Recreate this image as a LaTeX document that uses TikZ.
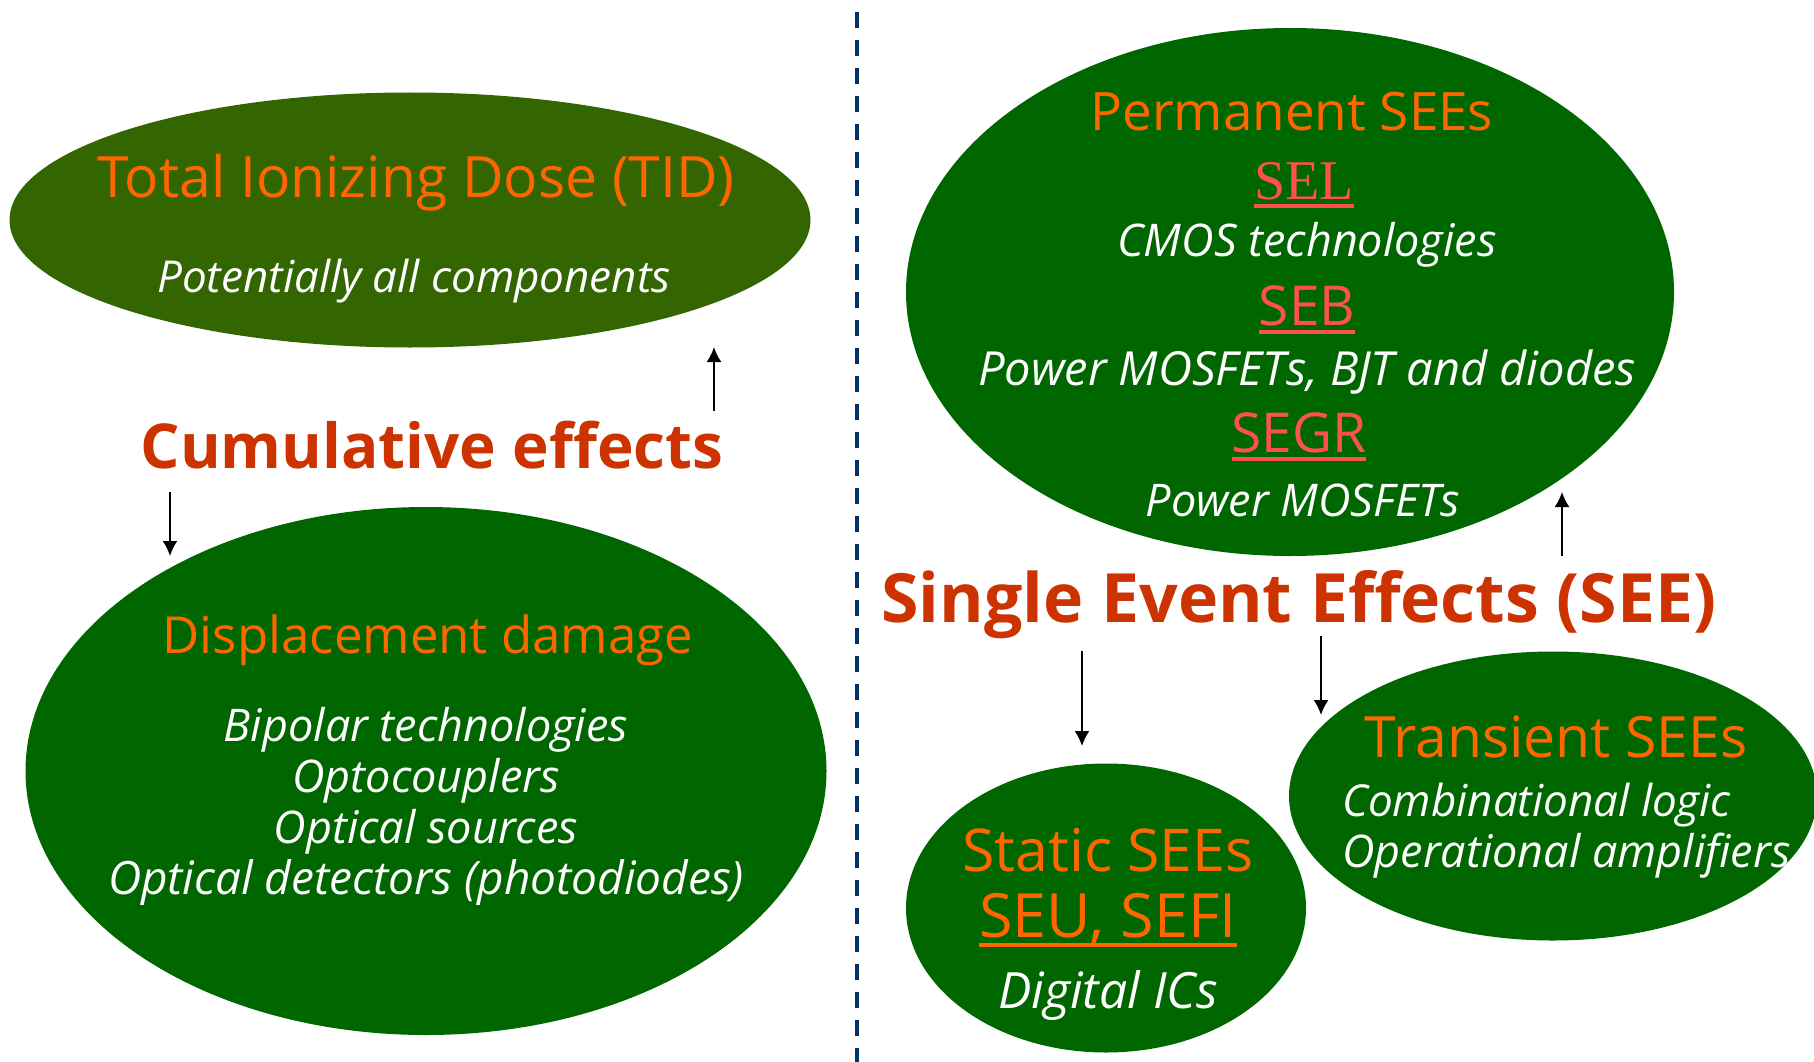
\documentclass[tikz,border=0pt]{standalone}
\usepackage{fontspec}
\setmainfont{Open Sans}
\newfontfamily\cf{Open Sans}
\newfontfamily\tf{Liberation Serif}
\usetikzlibrary{shapes.geometric,arrows.meta}
\definecolor{olivegr}{HTML}{336600}
\definecolor{darkgr}{HTML}{006600}
\definecolor{orng}{HTML}{FF6600}
\definecolor{brick}{HTML}{CC3300}
\definecolor{salmon}{HTML}{FF5050}
\definecolor{navy}{HTML}{003366}
\newcommand\myul[2]{\setbox0\hbox{#2}\rlap{\color{#1}\rule[-0.16em]{\wd0}{4pt}}\box0}
\newcommand\fs[1]{\fontsize{#1}{#1}\selectfont}
\tikzset{
  blob/.style={ellipse, inner sep=0pt, draw=none},
  ttl/.style={text=orng, inner sep=0pt, font=\cf\fs{53}},
  itl/.style={text=white, inner sep=0pt, font=\cf\itshape\fs{45}},
  big/.style={text=brick, inner sep=0pt, font=\cf\bfseries\fs{62}},
  red/.style={text=salmon, inner sep=0pt, font=\cf\fs{55}},
  arr/.style={-{Latex[length=15pt,width=15pt]}, line width=2pt, black},
}
\begin{document}
\begin{tikzpicture}[x=1pt,y=-1pt]
\useasboundingbox (0,0) rectangle (1814,1062);
\begin{scope}
\clip (0,0) rectangle (1814,1062);
% ellipses
\node[blob, fill=olivegr, minimum width=801pt, minimum height=255pt] (tid) at (410,220) {};
\node[blob, fill=darkgr, minimum width=801pt, minimum height=528pt] (dd) at (426,771) {};
\node[blob, fill=darkgr, minimum width=768pt, minimum height=528pt] (perm) at (1290,292) {};
\node[blob, fill=darkgr, minimum width=400pt, minimum height=289pt] (stat) at (1106,908) {};
\node[blob, fill=darkgr, minimum width=528pt, minimum height=289pt] (trans) at (1553,796) {};
\end{scope}
% divider
\coordinate (d1) at (857,12);
\coordinate (d2) at (857,1062);
\draw[navy, line width=4pt, dash pattern=on 16pt off 12pt] (d1) -- (d2);
% TID
\node[ttl, font=\cf\fs{57}] (tidt) at (416,183) {Total Ionizing Dose (TID)};
\node[itl, font=\cf\itshape\fs{44}] (tidi) at (414,281) {Potentially all components};
% cumulative
\node[big] (cum) at (432,445) {Cumulative effects};
\coordinate (cu1) at (714,411);
\coordinate (cu2) at (714,347);
\draw[arr] (cu1) -- (cu2);
\coordinate (cd1) at (170,492);
\coordinate (cd2) at (170,556);
\draw[arr] (cd1) -- (cd2);
% displacement
\node[ttl, font=\cf\fs{51}] (ddt) at (428,640) {Displacement damage};
\node[itl] (dd1) at (426,730) {Bipolar technologies};
\node[itl] (dd2) at (426,781) {Optocouplers};
\node[itl] (dd3) at (426,832) {Optical sources};
\node[itl, font=\cf\itshape\fs{46}] (dd4) at (426,883) {Optical detectors (photodiodes)};
% permanent
\node[ttl] (pt) at (1292,112) {Permanent SEEs};
\node[red, font=\tf\fs{56}] (sel) at (1304,185) {\myul{salmon}{SEL}};
\node[itl] (p1) at (1307,245) {CMOS technologies};
\node[red] (seb) at (1307,310) {\myul{salmon}{SEB}};
\node[itl, font=\cf\itshape\fs{47}] (p2) at (1307,372) {Power MOSFETs, BJT and diodes};
\node[red] (segr) at (1299,437) {\myul{salmon}{SEGR}};
\node[itl] (p3) at (1303,500) {Power MOSFETs};
% SEE
\node[big, font=\cf\bfseries\fs{68}] (see) at (1299,605) {Single Event Effects (SEE)};
\coordinate (su1) at (1562,556);
\coordinate (su2) at (1562,492);
\draw[arr] (su1) -- (su2);
\coordinate (sa1) at (1082,651);
\coordinate (sa2) at (1082,746);
\draw[arr] (sa1) -- (sa2);
\coordinate (sb1) at (1321,636);
\coordinate (sb2) at (1321,715);
\draw[arr] (sb1) -- (sb2);
% static
\node[ttl, font=\cf\fs{59}] (st) at (1108,850) {Static SEEs};
\node[ttl, font=\cf\fs{61}] (seu) at (1108,920) {\myul{orng}{SEU, SEFI}};
\node[itl, font=\cf\itshape\fs{50}] (st1) at (1108,995) {Digital ICs};
% transient
\node[ttl, font=\cf\fs{57}] (tt) at (1556,737) {Transient SEEs};
\node[itl, anchor=west, font=\cf\itshape\fs{44}] (tr1) at (1342,805) {Combinational logic};
\node[itl, anchor=west] (tr2) at (1342,856) {Operational amplifiers};
\end{tikzpicture}
\end{document}
